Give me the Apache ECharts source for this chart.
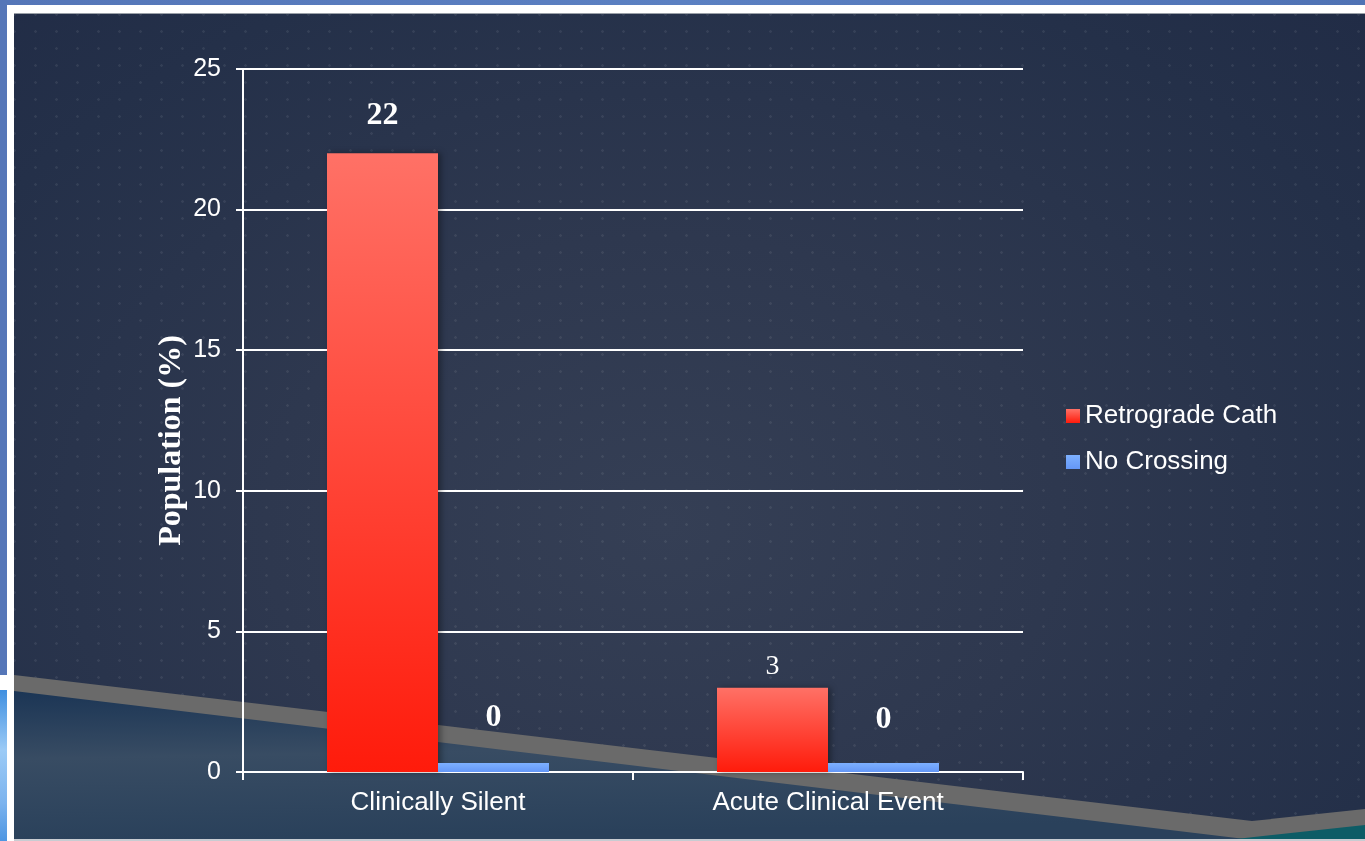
<!DOCTYPE html>
<html>
<head>
<meta charset="utf-8">
<script src="https://cdn.jsdelivr.net/npm/echarts@6/dist/echarts.min.js"></script>
<style>
  html, body { margin: 0; padding: 0; width: 1365px; height: 841px; overflow: hidden; }
  body { position: relative; background: linear-gradient(90deg, #5576b8, #5b80c2 50%, #4f72b4); }
  #white { position: absolute; left: 7px; top: 5px; right: 0; bottom: 0; background: #ffffff; }
  #panel {
    position: absolute; left: 14px; top: 13px; right: 0; bottom: 2px;
    background-color: #2a344c;
    background-image:
      radial-gradient(circle, rgba(255,255,255,0.07) 1px, transparent 1.6px),
      radial-gradient(ellipse at 48% 62%, #353f55 0%, #2e384f 40%, #243049 80%, #212c46 100%);
    background-size: 21px 17px, 100% 100%;
    background-position: -10px -8px, 0 0;
    border-top: 1px solid #9aa0a8;
  }
  #notch { position: absolute; left: 0; top: 675px; width: 7px; height: 15px; background: #ffffff; }
  #leftblue { position: absolute; left: 0; top: 690px; width: 7px; height: 151px;
    background: linear-gradient(180deg, #3f8fe0 0%, #9ccbf6 40%, #7bb3ee 75%, #4d96e2 100%); }
  #deco { position: absolute; left: 0; top: 0; }
  #chart { position: absolute; left: 0; top: 0; width: 1365px; height: 841px; }
</style>
</head>
<body>
<div id="white"></div>
<div id="panel"></div>
<div id="notch"></div>
<div id="leftblue"></div>
<svg id="deco" width="1365" height="841">
  <defs>
    <linearGradient id="lowgrad" x1="0" y1="0" x2="0.15" y2="1">
      <stop offset="0" stop-color="#1b3555"/>
      <stop offset="0.45" stop-color="#384c63"/>
      <stop offset="1" stop-color="#2a415b"/>
    </linearGradient>
  </defs>
  <polygon points="14,675 1252,821 1365,809 1365,841 14,841" fill="#6a6a6a"/>
  <polygon points="14,691 1245,839 14,839" fill="url(#lowgrad)"/>
  <polygon points="1236,839 1365,825 1365,839" fill="#0d5c66"/>
  <rect x="14" y="839" width="1351" height="2" fill="#c8ccd2"/>
</svg>
<div id="chart"></div>
<script>
const categories = ['Clinically Silent', 'Acute Clinical Event'];
const seriesNames = ['Retrograde Cath', 'No Crossing'];
const retrogradeCath = [22, 3];
const noCrossing = [0, 0];
const yMin = 0, yMax = 25, yStep = 5;

const sansFont = '"Liberation Sans", Arial, sans-serif';
const serifFont = '"Liberation Serif", "Times New Roman", serif';

const redGrad = new echarts.graphic.LinearGradient(0, 0, 0, 1, [
  { offset: 0, color: '#ff7166' }, { offset: 1, color: '#ff1b0b' }
]);
const blueGrad = new echarts.graphic.LinearGradient(0, 0, 0, 1, [
  { offset: 0, color: '#7db0ff' }, { offset: 1, color: '#6497f7' }
]);

// label styles per item (kept separate from values)
const retroLabelStyles = [
  { fontSize: 32, fontWeight: 'bold', distance: 22 },
  { fontSize: 28, fontWeight: 'normal', distance: 7 }
];
const noCrossLabelStyles = [
  { fontSize: 32, fontWeight: 'bold', distance: 29 },
  { fontSize: 32, fontWeight: 'bold', distance: 27 }
];

const chart = echarts.init(document.getElementById('chart'), null, { renderer: 'canvas' });
chart.setOption({
  backgroundColor: 'transparent',
  animation: false,
  grid: { left: 243, top: 69, width: 780, height: 703, containLabel: false },
  legend: {
    orient: 'vertical',
    left: 1061, top: 398,
    icon: 'rect',
    itemWidth: 14, itemHeight: 14, itemGap: 20,
    textStyle: { color: '#ffffff', fontSize: 26, fontFamily: sansFont },
    data: seriesNames
  },
  xAxis: {
    type: 'category',
    data: categories,
    axisLine: { show: true, lineStyle: { color: '#ffffff', width: 2 } },
    axisTick: { show: true, length: 8, lineStyle: { color: '#ffffff', width: 2 } },
    axisLabel: { color: '#ffffff', fontSize: 26, fontFamily: sansFont, margin: 18 },
    splitLine: { show: false }
  },
  yAxis: {
    type: 'value',
    min: yMin, max: yMax, interval: yStep,
    name: 'Population (%)',
    nameLocation: 'middle',
    nameGap: 55,
    nameMoveOverlap: false,
    nameRotate: 90,
    nameTextStyle: { color: '#ffffff', fontSize: 32, fontWeight: 'bold', fontFamily: serifFont,
      padding: [0, 40, 0, 0] },
    axisLine: { show: true, lineStyle: { color: '#ffffff', width: 2 } },
    axisTick: { show: true, length: 7, lineStyle: { color: '#ffffff', width: 2 } },
    axisLabel: { color: '#ffffff', fontSize: 25, fontFamily: sansFont, margin: 22 },
    splitLine: { show: true, lineStyle: { color: '#ffffff', width: 2 } }
  },
  series: [
    {
      name: seriesNames[0],
      type: 'bar',
      barWidth: 111,
      barGap: '0%',
      itemStyle: { color: redGrad, shadowColor: 'rgba(0,0,0,0.35)', shadowBlur: 6, shadowOffsetX: 3 },
      data: retrogradeCath.map((v, i) => ({
        value: v,
        label: {
          show: true, position: 'top', color: '#ffffff', fontFamily: serifFont,
          fontSize: retroLabelStyles[i].fontSize, fontWeight: retroLabelStyles[i].fontWeight,
          distance: retroLabelStyles[i].distance
        }
      }))
    },
    {
      name: seriesNames[1],
      type: 'bar',
      barWidth: 111,
      barGap: '0%',
      barMinHeight: 9,
      itemStyle: { color: blueGrad },
      data: noCrossing.map((v, i) => ({
        value: v,
        label: {
          show: true, position: 'top', color: '#ffffff', fontFamily: serifFont,
          fontSize: noCrossLabelStyles[i].fontSize, fontWeight: noCrossLabelStyles[i].fontWeight,
          distance: noCrossLabelStyles[i].distance
        }
      }))
    }
  ]
});
</script>
</body>
</html>
